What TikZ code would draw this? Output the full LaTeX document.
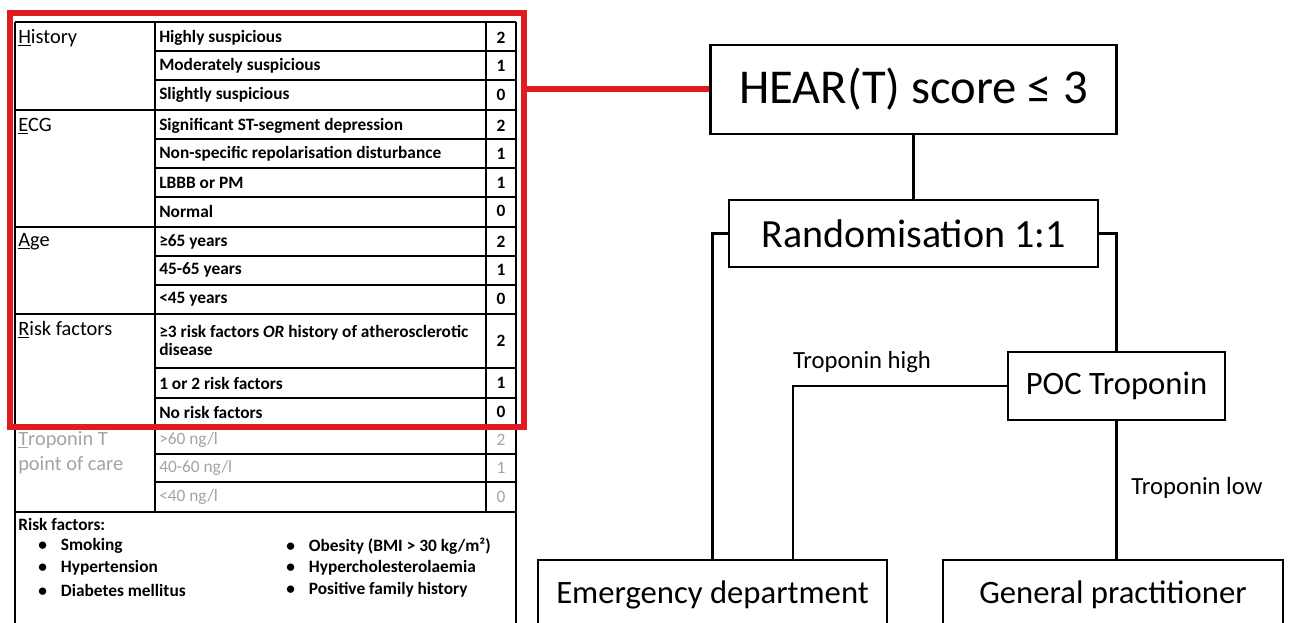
\documentclass[tikz,border=0pt]{standalone}
\usepackage{fontspec}
\setmainfont{Carlito}
\usepackage{tikz}
\definecolor{framered}{HTML}{E01B22}
\definecolor{tropgray}{HTML}{A3A3A3}
\tikzset{box/.style = {draw, line width=2.2pt, rectangle, inner sep=0pt},
         link/.style = {line width=2.2pt},
         redline/.style = {draw=framered, line width=4.5pt},
         rule/.style = {line width=2.2pt},
         hair/.style = {line width=1pt},
         group/.style = {anchor=west, inner sep=0pt, font=\fontsize{15.3}{18.5}\selectfont},
         cell/.style = {anchor=west, inner sep=0pt, font=\fontsize{13}{13.5}\selectfont\bfseries},
         score/.style = {inner sep=0pt, font=\fontsize{13}{13.5}\selectfont\bfseries},
         note/.style = {inner sep=0pt, font=\fontsize{18.5}{20}\selectfont}}

\begin{document}
\begin{tikzpicture}[x=0.75pt, y=-0.75pt]
        \useasboundingbox (0,0) rectangle (1289,623);

        % score table
        \draw[rule](15,22)--(516,22);
        \draw[rule](15,22)--(15,623);
        \draw[rule](516,22)--(516,623);
        \draw[rule](155,22)--(155,512);
        \draw[hair](486,22)--(486,512);
        \draw[rule](15,110)--(516,110);
        \draw[rule](15,227)--(516,227);
        \draw[rule](15,314)--(516,314);
        \draw[rule](15,427)--(516,427);
        \draw[rule](15,512)--(516,512);
        \draw[hair](155,51)--(516,51);
        \draw[hair](155,80)--(516,80);
        \draw[hair](155,139)--(516,139);
        \draw[hair](155,168)--(516,168);
        \draw[hair](155,197)--(516,197);
        \draw[hair](155,256)--(516,256);
        \draw[hair](155,285)--(516,285);
        \draw[hair](155,368)--(516,368);
        \draw[hair](155,398)--(516,398);
        \draw[hair](155,454)--(516,454);
        \draw[hair](155,482)--(516,482);

        \node[group](hist) at (18,38){\underline{H}istory};
        \node[cell](h2) at (159,38){Highly suspicious};
        \node[cell](h1) at (159,66){Moderately suspicious};
        \node[cell](h0) at (159,95){Slightly suspicious};
        \node[score] at (501,38){2};
        \node[score] at (501,66){1};
        \node[score] at (501,95){0};

        \node[group](ecg) at (18,126){\underline{E}CG};
        \node[cell](e2) at (159,126){Significant ST-segment depression};
        \node[cell](e1) at (159,154){Non-specific repolarisation disturbance};
        \node[cell](ep) at (159,183){LBBB or PM};
        \node[cell](e0) at (159,211){Normal};
        \node[score] at (501,126){2};
        \node[score] at (501,154){1};
        \node[score] at (501,183){1};
        \node[score] at (501,211){0};

        \node[group](age) at (18,242){\underline{A}ge};
        \node[cell](a2) at (159,242){≥65 years};
        \node[cell](a1) at (159,270){45-65 years};
        \node[cell](a0) at (159,299){<45 years};
        \node[score] at (501,242){2};
        \node[score] at (501,270){1};
        \node[score] at (501,299){0};

        \node[group](risk) at (18,330){\underline{R}isk factors};
        \node[cell, align=left](r2) at (159,340){≥3 risk factors \textit{OR} history of atherosclerotic\\disease};
        \node[cell](r1) at (159,383){1 or 2 risk factors};
        \node[cell](r0) at (159,412){No risk factors};
        \node[score] at (501,341){2};
        \node[score] at (501,383){1};
        \node[score] at (501,412){0};

        \node[group, tropgray, align=left, anchor=base west](trop) at (18,470){\underline{T}roponin T\\point of care};
        \node[cell, tropgray, font=\fontsize{13}{13.5}\selectfont](t2) at (159,440){>60 ng/l};
        \node[cell, tropgray, font=\fontsize{13}{13.5}\selectfont](t1) at (159,468){40-60 ng/l};
        \node[cell, tropgray, font=\fontsize{13}{13.5}\selectfont](t0) at (159,497){<40 ng/l};
        \node[score, tropgray, font=\fontsize{13}{13.5}\selectfont] at (501,440){2};
        \node[score, tropgray, font=\fontsize{13}{13.5}\selectfont] at (501,468){1};
        \node[score, tropgray, font=\fontsize{13}{13.5}\selectfont] at (501,497){0};

        % risk factor list
        \node[cell](rf) at (18,524){Risk factors:};
        \node[cell](smk) at (38,546){•\hspace{10.5pt}Smoking};
        \node[cell](hyp) at (38,568){•\hspace{10.5pt}Hypertension};
        \node[cell](dia) at (38,590){•\hspace{10.5pt}Diabetes mellitus};
        \node[cell](obe) at (286,546){•\hspace{10.5pt}Obesity (BMI > 30 kg/m²)};
        \node[cell](chol) at (286,568){•\hspace{10.5pt}Hypercholesterolaemia};
        \node[cell](fam) at (286,590){•\hspace{10.5pt}Positive family history};

        % red frame round HEAR
        \draw[redline](9.5,13.5) rectangle (523.5,427);
        \coordinate (tab) at (523.5,89.5);

        % flow chart
        \node[box, minimum width=305pt, minimum height=66.75pt, font=\fontsize{36.5}{40}\selectfont](hear) at (913.5,89.5){HEAR(T) score ≤ 3};
        \node[box, minimum width=276.75pt, minimum height=50.25pt, font=\fontsize{30}{34}\selectfont](rand) at (913.5,233.5){Randomisation 1:1};
        \node[box, minimum width=162.75pt, minimum height=51pt, font=\fontsize{24.5}{28}\selectfont](poc) at (1116.5,386){POC Troponin};
        \node[box, minimum width=261.75pt, minimum height=52.5pt, font=\fontsize{24.5}{28}\selectfont](ed) at (712.5,595){Emergency department};
        \node[box, minimum width=255pt, minimum height=52.5pt, font=\fontsize{24.5}{28}\selectfont](gp) at (1113,595){General practitioner};
        \coordinate (hi) at (793,560);

        \draw[redline](tab)--(hear.west);
        \draw[link](hear)--(rand);
        \draw[link](rand.west)-|(ed.north);
        \draw[link](rand.east)-|(poc.north);
        \draw[link](poc.west)-|(hi);
        \draw[link](poc.south)--(poc.south|-gp.north);

        \node[note](high) at (862,362){Troponin high};
        \node[note](low) at (1197,488){Troponin low};
    \end{tikzpicture}
\end{document}
